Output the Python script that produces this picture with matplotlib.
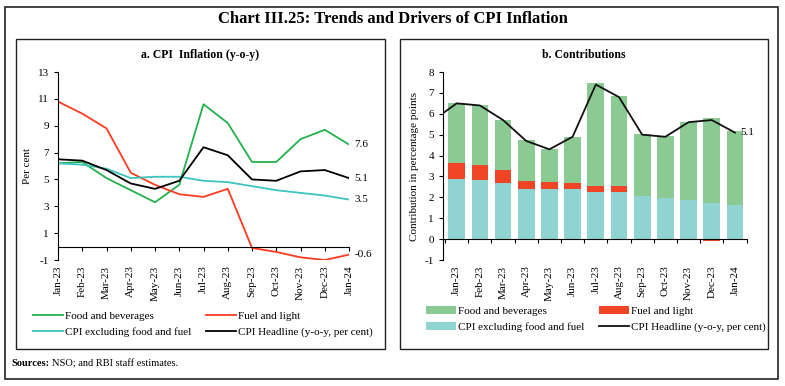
import numpy as np
import matplotlib.pyplot as plt
from matplotlib.patches import Rectangle

plt.rcParams['font.family'] = ['Liberation Serif', 'DejaVu Serif']
plt.rcParams['axes.unicode_minus'] = False

months = ['Jan-23', 'Feb-23', 'Mar-23', 'Apr-23', 'May-23', 'Jun-23', 'Jul-23',
          'Aug-23', 'Sep-23', 'Oct-23', 'Nov-23', 'Dec-23', 'Jan-24']

# panel a: y-o-y inflation, per cent
food = [6.2, 6.3, 5.1, 4.2, 3.3, 4.6, 10.6, 9.2, 6.3, 6.3, 8.0, 8.7, 7.6]
fuel = [10.8, 9.9, 8.8, 5.5, 4.6, 3.9, 3.7, 4.3, -0.1, -0.4, -0.8, -1.0, -0.6]
core = [6.2, 6.1, 5.8, 5.1, 5.2, 5.2, 4.9, 4.8, 4.5, 4.2, 4.0, 3.8, 3.5]
headline = [6.5, 6.4, 5.7, 4.7, 4.3, 4.9, 7.4, 6.8, 5.0, 4.9, 5.6, 5.7, 5.1]
headline_dec22 = 5.7

# panel b: contributions, percentage points
food_c = [2.88, 2.89, 2.39, 1.97, 1.57, 2.23, 4.93, 4.3, 2.97, 2.99, 3.75, 4.07, 3.54]
fuel_c = [0.75, 0.7, 0.6, 0.38, 0.33, 0.27, 0.26, 0.3, -0.01, -0.02, -0.05, -0.08, -0.05]
core_c = [2.9, 2.85, 2.7, 2.4, 2.4, 2.4, 2.28, 2.25, 2.05, 1.95, 1.88, 1.75, 1.65]

c_food = '#22b14c'
c_fuel = '#ff3b1f'
c_core = '#3cc4be'
b_food = '#8bca92'
b_fuel = '#ef4526'
b_core = '#8fd4d1'

fig = plt.figure(figsize=(7.85, 3.86), dpi=100)

# frames
fig.add_artist(Rectangle((0.0064, 0.018), 0.9847, 0.964, transform=fig.transFigure,
                         fill=False, lw=1.2, ec='#222222'))
fig.add_artist(Rectangle((0.0204, 0.096), 0.470, 0.803, transform=fig.transFigure,
                         fill=False, lw=1.0, ec='#222222'))
fig.add_artist(Rectangle((0.5096, 0.096), 0.4688, 0.803, transform=fig.transFigure,
                         fill=False, lw=1.0, ec='#222222'))

fig.text(0.5, 0.951, 'Chart III.25: Trends and Drivers of CPI Inflation',
         ha='center', va='center', fontsize=12, fontweight='bold')
fig.text(0.255, 0.857, 'a. CPI  Inflation (y-o-y)', ha='center', va='center',
         fontsize=8.5, fontweight='bold')
fig.text(0.744, 0.857, 'b. Contributions', ha='center', va='center',
         fontsize=8.5, fontweight='bold')
src = fig.text(0.015, 0.057, 'Sources:', fontsize=7.5, fontweight='bold', va='center')
src_rest = fig.text(0.015, 0.057, 'NSO; and RBI staff estimates.', fontsize=7.5, va='center')

x = np.arange(len(months))


def style_axis(ax, yticks, ylim, xlim, tick_pos):
    ax.set_ylim(*ylim)
    ax.set_xlim(*xlim)
    ax.set_yticks(yticks)
    ax.tick_params(axis='y', labelsize=8, length=3, width=0.8)
    ax.spines['top'].set_visible(False)
    ax.spines['right'].set_visible(False)
    ax.spines['bottom'].set_position(('data', 0))
    ax.set_xticks(tick_pos)
    ax.tick_params(axis='x', labelbottom=False, length=3, width=0.8)
    sec = ax.secondary_xaxis('bottom')
    sec.set_xticks(x)
    sec.set_xticklabels(months, rotation=90, fontsize=8)
    sec.tick_params(length=0, pad=4)
    sec.spines['bottom'].set_visible(False)


# ---- panel a
ax1 = fig.add_axes([0.0739, 0.3264, 0.3707, 0.487])
l_food, = ax1.plot(x, food, color=c_food, lw=1.3, label='Food and beverages')
l_fuel, = ax1.plot(x, fuel, color=c_fuel, lw=1.3, label='Fuel and light')
l_core, = ax1.plot(x, core, color=c_core, lw=1.3, label='CPI excluding food and fuel')
l_head, = ax1.plot(x, headline, color='black', lw=1.3, label='CPI Headline (y-o-y, per cent)')
style_axis(ax1, np.arange(-1, 14, 2), (-1, 13), (0, 12), x)
ax1.set_ylabel('Per cent', fontsize=8)
for s in (food, headline, core, fuel):
    ax1.annotate(f'{s[-1]:.1f}', (x[-1], s[-1]), xytext=(4, 0), textcoords='offset points',
                 va='center', fontsize=8, annotation_clip=False)
ax1.legend([l_food, l_core, l_fuel, l_head],
           [h.get_label() for h in (l_food, l_core, l_fuel, l_head)],
           loc='upper left', bbox_to_anchor=(0.036, 0.205), bbox_transform=fig.transFigure,
           ncol=2, frameon=False, fontsize=8, handlelength=2.7, handletextpad=0.2,
           columnspacing=1.3, labelspacing=0.55, borderaxespad=0)

# ---- panel b
ax2 = fig.add_axes([0.5643, 0.3264, 0.3873, 0.487])
core_c = np.array(core_c)
fuel_c = np.array(fuel_c)
food_c = np.array(food_c)
w = 0.72
p_core = ax2.bar(x, core_c, w, color=b_core, label='CPI excluding food and fuel', zorder=2)
fuel_bottom = np.where(fuel_c >= 0, core_c, 0)
p_fuel = ax2.bar(x, fuel_c, w, bottom=fuel_bottom, color=b_fuel, label='Fuel and light', zorder=2)
food_bottom = core_c + np.clip(fuel_c, 0, None)
p_food = ax2.bar(x, food_c, w, bottom=food_bottom, color=b_food, label='Food and beverages', zorder=2)
p_head, = ax2.plot(np.r_[-1, x], np.r_[headline_dec22, headline], color='#111111', lw=1.3,
                   label='CPI Headline (y-o-y, per cent)', zorder=3)
style_axis(ax2, np.arange(-1, 9, 1), (-1, 8), (-0.59, 12.52), np.arange(-0.5, 13, 1))
ax2.set_ylabel('Contribution in percentage points', fontsize=8)
ax2.annotate(f'{headline[-1]:.1f}', (x[-1], headline[-1]), xytext=(4, 0),
             textcoords='offset points', va='center', fontsize=8)
hs = [p_food, p_core, p_fuel, p_head]
ax2.legend(hs, [h.get_label() for h in hs], loc='upper left',
           bbox_to_anchor=(0.537, 0.218), bbox_transform=fig.transFigure,
           ncol=2, frameon=False, fontsize=8, handlelength=2.7, handletextpad=0.2,
           columnspacing=1.3, labelspacing=0.55, borderaxespad=0)

# keep sources text right after the bold label
fig.canvas.draw()
bb = src.get_window_extent().transformed(fig.transFigure.inverted())
src_rest.set_position((bb.x1 + 0.0025, 0.057))

fig.savefig('out.png', dpi=100)
